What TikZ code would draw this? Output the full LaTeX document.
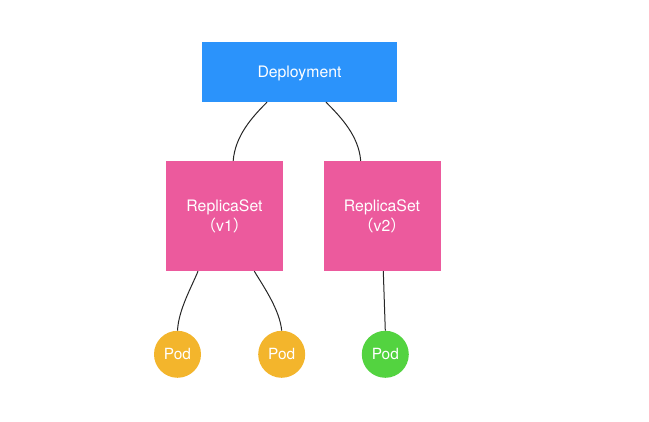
\documentclass[tikz,border=0pt]{standalone}
\usepackage{fontspec}
\setmainfont{TeX Gyre Heros}
\newfontfamily\cjk{Noto Sans CJK SC}
\definecolor{depblue}{HTML}{2B93FB}
\definecolor{rspink}{HTML}{EC5A9D}
\definecolor{podorange}{HTML}{F3B52C}
\definecolor{podgreen}{HTML}{53D340}
\begin{document}
\begin{tikzpicture}[x=1pt,y=-1pt,
  box/.style={rectangle, inner sep=0pt, text=white, align=center,
    font=\fontsize{15.8}{20}\selectfont},
  depbox/.style={box, fill=depblue, minimum width=195pt, minimum height=60pt, text depth=0pt},
  rsbox/.style={box, fill=rspink, minimum width=117pt, minimum height=110pt},
  pod/.style={circle, inner sep=0pt, minimum size=47pt, text=white, text depth=0pt,
    font=\fontsize{15.4}{18}\selectfont},
  link/.style={draw=black!85, line width=1pt}]
\useasboundingbox (0,0) rectangle (649,422);
\node[depbox] (dep) at (299.5,72) {Deployment};
\node[rsbox] (rs1) at (224.5,216) {ReplicaSet\\{\cjk （}v1{\cjk ）}};
\node[rsbox] (rs2) at (382,216) {ReplicaSet\\{\cjk （}v2{\cjk ）}};
\node[pod, fill=podorange] (p1) at (177.5,354.3) {Pod};
\node[pod, fill=podorange] (p2) at (281.7,354.3) {Pod};
\node[pod, fill=podgreen] (p3) at (385.3,354.3) {Pod};
\draw[link] ([xshift=-32.5pt]dep.south) .. controls +(-15,15) and +(2,-25) .. ([xshift=8.7pt]rs1.north);
\draw[link] ([xshift=26.5pt]dep.south) .. controls +(15,15) and +(-2,-25) .. ([xshift=-21.3pt]rs2.north);
\draw[link] ([xshift=-26.5pt]rs1.south) .. controls +(-6,15) and +(1,-21) .. (p1.north);
\draw[link] ([xshift=29.8pt]rs1.south) .. controls +(9,15) and +(-2,-21) .. (p2.north);
\draw[link] ([xshift=1.3pt]rs2.south) -- (p3.north);
\end{tikzpicture}
\end{document}
